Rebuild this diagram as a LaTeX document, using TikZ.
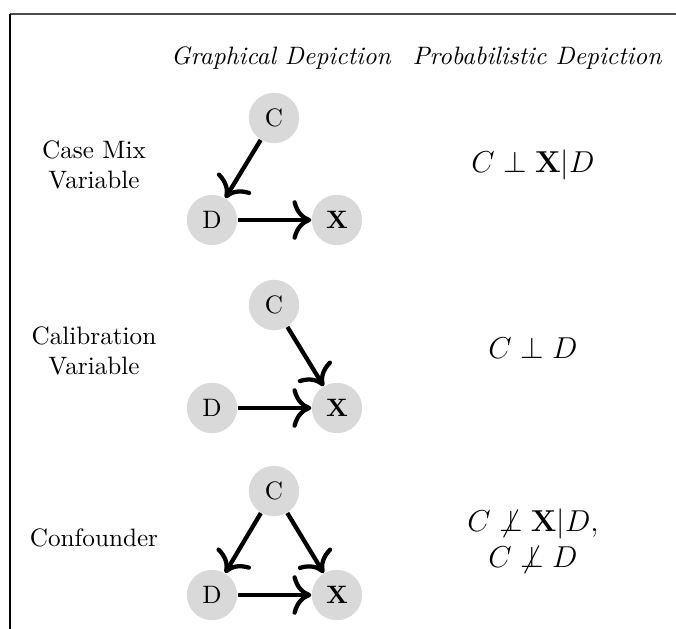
\documentclass[tikz,border=0pt]{standalone}
\usetikzlibrary{arrows.meta}
\begin{document}
\begin{tikzpicture}[x=0.397pt,y=-0.397pt,
  var/.style={circle,fill=black!15,minimum size=20pt,inner sep=0pt,font=\normalsize},
  arr/.style={-{To[scale=1.4]},line width=1.7pt},
  rowlabel/.style={align=center,font=\normalsize},
  prob/.style={align=center,font=\large},
  head/.style={font=\itshape}]
\useasboundingbox (0,0) rectangle (676,629);
\coordinate (f1) at (10,14);
\coordinate (f2) at (676,14);
\coordinate (f3) at (10,629);
\draw[line width=0.6pt,black!70] (f1) -- (f2);
\draw[line width=0.6pt] (f1) -- (f3);
\node[head] (h1) at (281,58) {Graphical Depiction};
\node[head] (h2) at (537,58) {Probabilistic Depiction};
% row 1
\node[rowlabel] (l1) at (94,165) {Case Mix\\Variable};
\node[var] (c1) at (274,118) {C};
\node[var] (d1) at (212,220) {D};
\node[var] (x1) at (337,220) {$\mathbf{X}$};
\draw[arr] (c1) -- (d1);
\draw[arr] (d1) -- (x1);
\node[prob] (p1) at (533,165) {$C \perp \mathbf{X}|D$};
% row 2
\node[rowlabel] (l2) at (94,351) {Calibration\\Variable};
\node[var] (c2) at (274,305) {C};
\node[var] (d2) at (212,408) {D};
\node[var] (x2) at (337,408) {$\mathbf{X}$};
\draw[arr] (c2) -- (x2);
\draw[arr] (d2) -- (x2);
\node[prob] (p2) at (533,348) {$C \perp D$};
% row 3
\node[rowlabel] (l3) at (94,538) {Confounder};
\node[var] (c3) at (274,491) {C};
\node[var] (d3) at (212,595) {D};
\node[var] (x3) at (337,595) {$\mathbf{X}$};
\draw[arr] (c3) -- (d3);
\draw[arr] (c3) -- (x3);
\draw[arr] (d3) -- (x3);
\node[prob] (p3) at (533,541) {$C \not\perp \mathbf{X}|D,$\\$C \not\perp D$};
\end{tikzpicture}
\end{document}
